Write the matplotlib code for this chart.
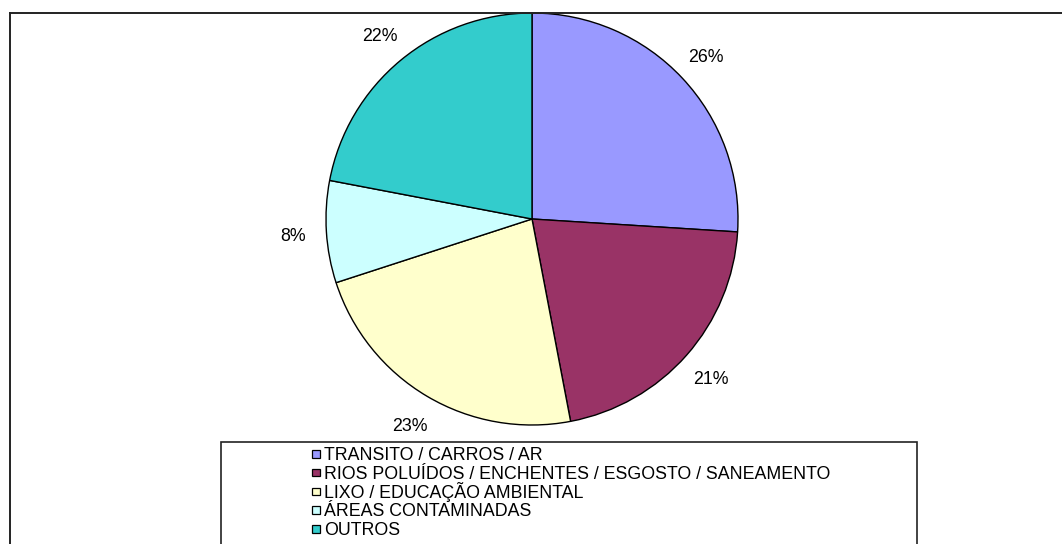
import matplotlib
matplotlib.use("Agg")
import matplotlib.pyplot as plt
from matplotlib.patches import Rectangle
from matplotlib.lines import Line2D

categories = [
    "TRANSITO / CARROS / AR",
    "RIOS POLUÍDOS / ENCHENTES / ESGOSTO / SANEAMENTO",
    "LIXO / EDUCAÇÃO AMBIENTAL",
    "ÁREAS CONTAMINADAS",
    "OUTROS",
]
values = [26, 21, 23, 8, 22]
colors = ["#9999FF", "#993366", "#FFFFCC", "#CCFFFF", "#33CCCC"]

plt.rcParams['font.family'] = ['Liberation Sans', 'DejaVu Sans']

W, H = 1062, 544
FS = 12.8
fig = plt.figure(figsize=(W / 100, H / 100), dpi=100)
fig.patch.set_facecolor("white")

# outer frame (top and left edges visible)
fig.add_artist(Line2D([10 / W, 1.0], [1 - 13 / H, 1 - 13 / H], color="#222222", lw=1.4, transform=fig.transFigure))
fig.add_artist(Line2D([10 / W, 10 / W], [1 - 13 / H, 0], color="#222222", lw=1.4, transform=fig.transFigure))

cx, cy, r = 532, 219, 206
ax = fig.add_axes([(cx - r) / W, (H - cy - r) / H, 2 * r / W, 2 * r / H])
wedges, texts = ax.pie(
    values, colors=colors, startangle=90, counterclock=False,
    labels=[f"{v}%" for v in values], labeldistance=1.16,
    wedgeprops=dict(edgecolor="black", linewidth=1.0),
    textprops=dict(fontsize=FS, color="black"),
)
for t in texts:
    t.set_ha("center")
    t.set_va("center_baseline")
ax.set_xlim(-1, 1)
ax.set_ylim(-1, 1)
ax.set_aspect("equal")
ax.axis("off")

# legend box
fig.add_artist(Rectangle((221 / W, -0.05), (917 - 221) / W, (H - 442) / H + 0.05,
                         transform=fig.transFigure, facecolor="none", edgecolor="#222222", lw=1.2))

# legend entries (evenly spaced rows)
row0, step = 454, 18.7
sq = 7.5
for i, (lab, col) in enumerate(zip(categories, colors)):
    yc = row0 + step * i
    fig.add_artist(Rectangle((312 / W, 1 - (yc + sq / 2) / H), sq / W, sq / H,
                             transform=fig.transFigure, facecolor=col, edgecolor="black", lw=0.9))
    fig.text(324 / W, 1 - (yc + 6.3) / H, lab, fontsize=FS, ha="left", va="baseline", color="black")

fig.savefig("out.png", dpi=100, facecolor="white")
